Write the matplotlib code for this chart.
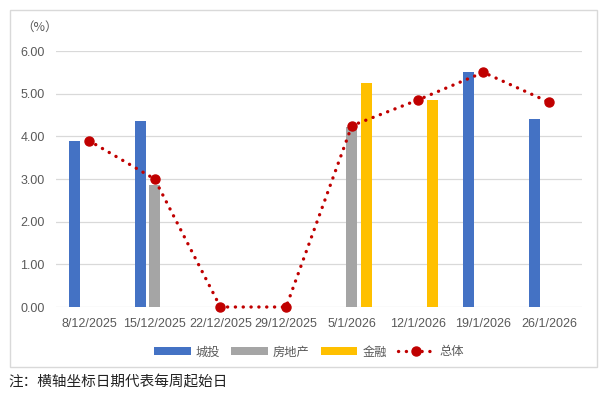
import matplotlib.pyplot as plt
import numpy as np
from matplotlib.patches import Rectangle

plt.rcParams['font.family'] = ['Liberation Sans', 'Noto Sans CJK SC']

# week start dates
weeks = ['8/12/2025', '15/12/2025', '22/12/2025', '29/12/2025',
         '5/1/2026', '12/1/2026', '19/1/2026', '26/1/2026']
chengtou = [3.90, 4.35, 0, 0, 0, 0, 5.50, 4.40]
fangdichan = [0, 2.87, 0, 0, 4.22, 0, 0, 0]
jinrong = [0, 0, 0, 0, 5.25, 4.85, 0, 0]
zongti = [3.90, 3.00, 0, 0, 4.25, 4.85, 5.50, 4.80]
yticks = [0, 1, 2, 3, 4, 5, 6]

BLUE = '#4472C4'
GRAY = '#A5A5A5'
GOLD = '#FFC000'
RED = '#C00000'
TXT = '#595959'
CJK = ['Noto Sans CJK SC', 'DejaVu Sans']

fig = plt.figure(figsize=(6.07, 3.97), dpi=100)
ax = fig.add_axes([56 / 607, 1 - 307 / 397, 526 / 607, 256 / 397])

# outer chart frame
fig.patches.append(Rectangle((10 / 607, 1 - 367 / 397), 587 / 607, 357 / 397,
                             transform=fig.transFigure, fill=False,
                             edgecolor='#d9d9d9', linewidth=1.0))

x = np.arange(len(weeks))
w = 0.17
off = 0.22
b1 = ax.bar(x - off, chengtou, w, color=BLUE, linewidth=0, zorder=2)
b2 = ax.bar(x, fangdichan, w, color=GRAY, linewidth=0, zorder=2)
b3 = ax.bar(x + off, jinrong, w, color=GOLD, linewidth=0, zorder=2)
ln, = ax.plot(x, zongti, color=RED, linestyle=(0, (0.05, 2.3)), linewidth=2.4,
              dash_capstyle='round', marker='o', markersize=6.5,
              zorder=3, clip_on=False)

ax.set_xlim(-0.5, len(weeks) - 0.5)
ax.set_ylim(0, 6)
ax.set_yticks(yticks)
ax.set_yticklabels([f'{v:.2f}' for v in yticks])
ax.set_xticks(x)
ax.set_xticklabels(weeks)
ax.tick_params(axis='both', length=0, colors=TXT, labelsize=9)
ax.tick_params(axis='y', pad=8)
ax.tick_params(axis='x', pad=8)
ax.grid(axis='y', color='#d9d9d9', linewidth=0.9, zorder=0)
ax.set_axisbelow(True)
for s in ax.spines.values():
    s.set_visible(False)

fig.text(21 / 607, 1 - 27 / 397, '（%）', fontsize=9, color=TXT,
         family=CJK, ha='left', va='center')

leg = fig.legend([b1, b2, b3, ln], ['城投', '房地产', '金融', '总体'],
                 loc='center', bbox_to_anchor=(309 / 607, 1 - 352 / 397),
                 ncol=4, frameon=False, numpoints=1, handlelength=3.0,
                 handleheight=0.55, handletextpad=0.4, columnspacing=0.9,
                 prop={'family': CJK, 'size': 8.8})
for t in leg.get_texts():
    t.set_color(TXT)

fig.text(8 / 607, 1 - 382 / 397, '注：横轴坐标日期代表每周起始日', fontsize=10.5,
         color='#222222', family=CJK, ha='left', va='center')

fig.savefig('out.png', dpi=100, facecolor='white')
